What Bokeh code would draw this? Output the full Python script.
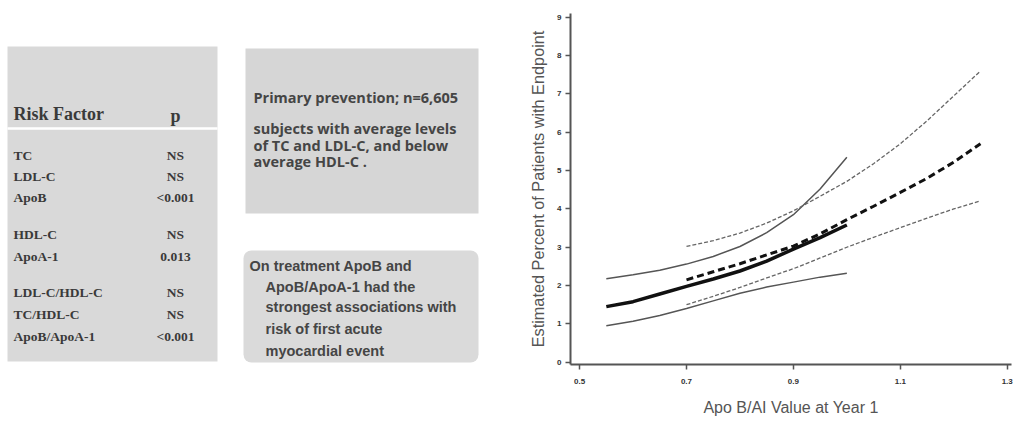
from bokeh.plotting import figure
from bokeh.layouts import row
from bokeh.models import Range1d, FixedTicker, BoxAnnotation
from bokeh.core.properties import value
from bokeh.embed import file_html
from bokeh.resources import INLINE

# ---------------- data ----------------
risk_factors = ["TC", "LDL-C", "ApoB", "HDL-C", "ApoA-1", "LDL-C/HDL-C", "TC/HDL-C", "ApoB/ApoA-1"]
p_values = ["NS", "NS", "<0.001", "NS", "0.013", "NS", "NS", "<0.001"]

note1_lines = ["Primary prevention;  n=6,605", "subjects  with average levels",
               "of TC  and LDL-C,  and below", "average HDL-C ."]
note2_lines = ["On treatment ApoB  and", "ApoB/ApoA-1  had the",
               "strongest  associations  with", "risk of first acute", "myocardial event"]

x_solid = [0.55, 0.60, 0.65, 0.70, 0.75, 0.80, 0.85, 0.90, 0.95, 1.00]
solid_mid = [1.45, 1.58, 1.78, 1.98, 2.17, 2.38, 2.64, 2.95, 3.25, 3.58]
solid_hi = [2.18, 2.28, 2.40, 2.56, 2.76, 3.02, 3.38, 3.85, 4.52, 5.35]
solid_lo = [0.95, 1.07, 1.22, 1.40, 1.60, 1.80, 1.96, 2.09, 2.22, 2.32]

x_dash = [0.70, 0.75, 0.80, 0.85, 0.90, 0.95, 1.00, 1.05, 1.10, 1.15, 1.20, 1.25]
dash_mid = [2.15, 2.36, 2.57, 2.80, 3.03, 3.35, 3.72, 4.07, 4.43, 4.80, 5.22, 5.70]
dash_hi = [3.02, 3.17, 3.37, 3.63, 3.95, 4.33, 4.72, 5.18, 5.70, 6.30, 6.95, 7.60]
dash_lo = [1.50, 1.72, 1.95, 2.20, 2.44, 2.72, 3.00, 3.26, 3.51, 3.76, 4.00, 4.21]

x_ticks = [0.5, 0.7, 0.9, 1.1, 1.3]
y_ticks = [0, 1, 2, 3, 4, 5, 6, 7, 8, 9]

H = 421
LW = 505
TOP = 13
BOT = 57

# ---------------- left panel (pixel-like coordinates, y measured from top) ----------------
left = figure(width=LW, height=H, x_range=Range1d(0, LW), y_range=Range1d(H - BOT, TOP),
              x_axis_type=None, y_axis_type=None, toolbar_location=None,
              output_backend="svg", min_border_left=0, min_border_right=0,
              min_border_top=TOP, min_border_bottom=BOT, outline_line_color=None)
left.grid.visible = False

box_col = "#d9d9d9"
txt_col = "#3a3a3a"

# table box
left.quad(left=[7], right=[217], top=[46], bottom=[361], fill_color=box_col, line_color=None)
left.segment(x0=[7], y0=[128], x1=[217], y1=[128], line_color="white", line_width=2.5)
left.text(x=[13], y=[113], text=["Risk Factor"], text_font=value("Liberation Serif"),
          text_font_style="bold", text_font_size="18px", text_color=txt_col, text_baseline="middle")
left.text(x=[175], y=[115], text=["p"], text_font=value("Liberation Serif"),
          text_font_style="bold", text_font_size="18px", text_color=txt_col,
          text_baseline="middle", text_align="center")
row_y = [155, 176, 197, 234, 256, 292, 314, 336]
left.text(x=[13] * len(risk_factors), y=row_y, text=risk_factors, text_font=value("Liberation Serif"),
          text_font_style="bold", text_font_size="13.5px", text_color=txt_col, text_baseline="middle")
left.text(x=[175] * len(p_values), y=row_y, text=p_values, text_font=value("Liberation Serif"),
          text_font_style="bold", text_font_size="13.5px", text_color=txt_col,
          text_baseline="middle", text_align="center")

# note 1 box
left.quad(left=[245], right=[478], top=[48], bottom=[213], fill_color="#d6d6d6", line_color=None)
left.text(x=[253] * 4, y=[97, 128, 145, 161], text=note1_lines, text_font=value("Open Sans"),
          text_font_style="bold", text_font_size="14.5px", text_color="#454545", text_baseline="middle")

# note 2 box (rounded)
left.add_layout(BoxAnnotation(left=243, right=478, top=250, bottom=362, fill_color="#dadada",
                              fill_alpha=1.0, line_color=None, border_radius=8, level="underlay"))
left.text(x=[249, 265, 265, 265, 265], y=[265, 286, 306, 328, 350], text=note2_lines,
          text_font=value("Liberation Sans"), text_font_style="bold", text_font_size="14.5px",
          text_color="#454545", text_baseline="middle")

# ---------------- right panel: chart ----------------
p = figure(width=1021 - LW, height=H, x_range=Range1d(0.483, 1.308), y_range=Range1d(-0.06, 9.1),
           toolbar_location=None, output_backend="svg",
           min_border_left=65, min_border_right=10, min_border_top=TOP, min_border_bottom=BOT,
           outline_line_color=None)
p.grid.visible = False

p.line(x_solid, solid_hi, line_color="#555555", line_width=1.5)
p.line(x_solid, solid_lo, line_color="#555555", line_width=1.5)
p.line(x_solid, solid_mid, line_color="#111111", line_width=3.5)
p.line(x_dash, dash_hi, line_color="#666666", line_width=1.3, line_dash="4 2")
p.line(x_dash, dash_lo, line_color="#666666", line_width=1.3, line_dash="4 2")
p.line(x_dash, dash_mid, line_color="#111111", line_width=3, line_dash="7 4")

for ax in (p.xaxis[0], p.yaxis[0]):
    ax.axis_line_color = "#555555"
    ax.axis_line_width = 2
    ax.major_tick_line_color = "#555555"
    ax.major_tick_line_width = 1.5
    ax.major_tick_out = 5
    ax.major_tick_in = 0
    ax.minor_tick_line_color = None
    ax.major_label_text_font = "Liberation Sans"
    ax.major_label_text_font_style = "bold"
    ax.major_label_text_font_size = "8px"
    ax.major_label_text_color = "#333333"
    ax.axis_label_text_font = "Liberation Sans"
    ax.axis_label_text_font_style = "normal"
    ax.axis_label_text_color = "#555555"

p.xaxis.axis_label_text_font_size = "16px"
p.yaxis.axis_label_text_font_size = "16.3px"
p.xaxis.ticker = FixedTicker(ticks=x_ticks)
p.yaxis.ticker = FixedTicker(ticks=y_ticks)
p.xaxis.major_label_overrides = {0.5: "0.5", 0.7: "0.7", 0.9: "0.9", 1.1: "1.1", 1.3: "1.3"}
p.xaxis.axis_label = "Apo B/AI Value at Year 1"
p.yaxis.axis_label = "Estimated Percent of Patients with Endpoint"
p.xaxis.major_label_standoff = 9
p.xaxis.axis_label_standoff = 12
p.yaxis.major_label_standoff = 4
p.yaxis.axis_label_standoff = 7

layout = row(left, p, spacing=0)
open("out.html", "w").write(file_html(layout, INLINE))
